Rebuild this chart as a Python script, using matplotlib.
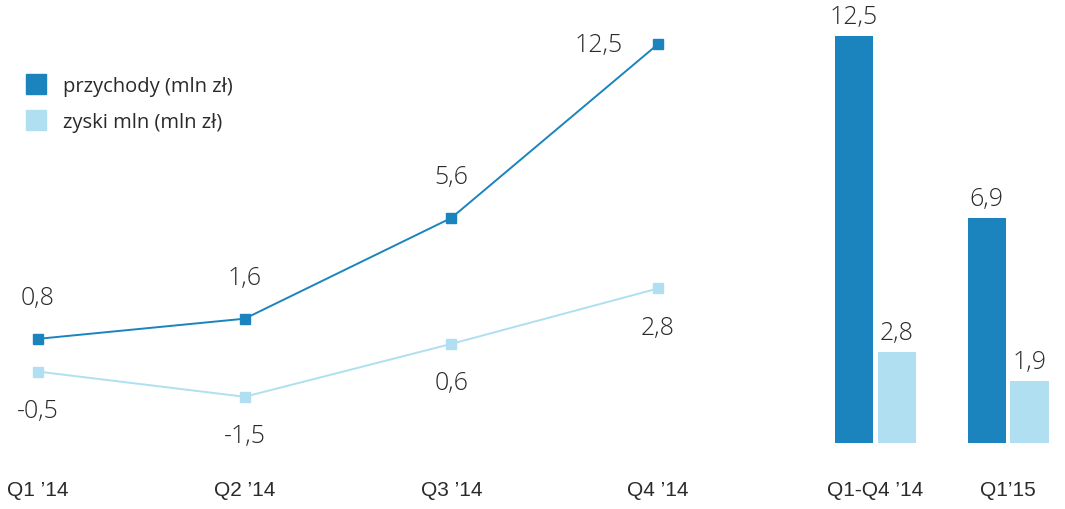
import matplotlib.pyplot as plt

# dane kwartalne
kwartaly = ["Q1 \u201914", "Q2 \u201914", "Q3 \u201914", "Q4 \u201914"]
przychody = [0.8, 1.6, 5.6, 12.5]
zyski = [-0.5, -1.5, 0.6, 2.8]

# podsumowanie (słupki)
okresy = ["Q1-Q4 \u201914", "Q1\u201915"]
przychody_sum = [12.5, 6.9]
zyski_sum = [2.8, 1.9]

ciemny = '#1b84bf'
jasny = '#b0dff1'
tekst = '#2a2a2a'
font_liczby = dict(fontsize=18, color=tekst, family='Open Sans', weight='light')

def fmt(v):
    return ('%.1f' % v).replace('.', ',')

fig = plt.figure(figsize=(10.65, 5.10), dpi=100)
W, H = 1065, 510

# wykres liniowy
ax = fig.add_axes([0, 1 - 460 / H, 700 / W, 460 / H])
x = list(range(len(kwartaly)))
ax.plot(x, przychody, color=ciemny, lw=1.4, marker='s', ms=6.5, zorder=3)
ax.plot(x, zyski, color=jasny, lw=1.4, marker='s', ms=6.5, zorder=2)
ax.set_xlim(-0.184, 3.203)
ax.set_ylim(-3.97, 14.29)

for i, v in enumerate(przychody):
    if i == len(przychody) - 1:
        ax.annotate(fmt(v), (i, v), xytext=(-43, 0), textcoords='offset points',
                    ha='center', va='center', **font_liczby)
    else:
        ax.annotate(fmt(v), (i, v), xytext=(0, 30), textcoords='offset points',
                    ha='center', va='center', **font_liczby)
for i, v in enumerate(zyski):
    ax.annotate(fmt(v), (i, v), xytext=(0, -28), textcoords='offset points',
                ha='center', va='center', **font_liczby)

ax.set_xticks(x)
ax.set_xticklabels(kwartaly, family='Liberation Sans', fontsize=15, color=tekst)
ax.tick_params(axis='x', length=0, pad=15)
ax.set_yticks([])
for s in ax.spines.values():
    s.set_visible(False)

# legenda
ax.plot([], [], 's', color=ciemny, ms=14.5, label='przychody (mln zł)')
ax.plot([], [], 's', color=jasny, ms=14.5, label='zyski mln (mln zł)')
leg = ax.legend(loc='upper left', bbox_to_anchor=(0.012, 0.872), frameon=False,
                handlelength=0.9, handletextpad=0.9, labelspacing=0.8,
                prop={'family': 'Open Sans', 'size': 14.5})
for t in leg.get_texts():
    t.set_color(tekst)

# wykres słupkowy
bx = fig.add_axes([800 / W, 1 - 460 / H, 265 / W, 460 / H])
xb = list(range(len(okresy)))
szer = 0.287
off = 0.162
b1 = bx.bar([p - off for p in xb], przychody_sum, width=szer, color=ciemny)
b2 = bx.bar([p + off for p in xb], zyski_sum, width=szer, color=jasny)
bx.set_xlim(-0.57, 1.43)
bx.set_ylim(-0.49, 13.64)
for bars, vals in ((b1, przychody_sum), (b2, zyski_sum)):
    for b, v in zip(bars, vals):
        bx.annotate(fmt(v), (b.get_x() + b.get_width() / 2, v), xytext=(0, 14),
                    textcoords='offset points', ha='center', va='center',
                    **font_liczby)
bx.set_xticks(xb)
bx.set_xticklabels(okresy, family='Liberation Sans', fontsize=15, color=tekst)
bx.tick_params(axis='x', length=0, pad=15)
bx.set_yticks([])
for s in bx.spines.values():
    s.set_visible(False)

fig.savefig('out.png', dpi=100)
